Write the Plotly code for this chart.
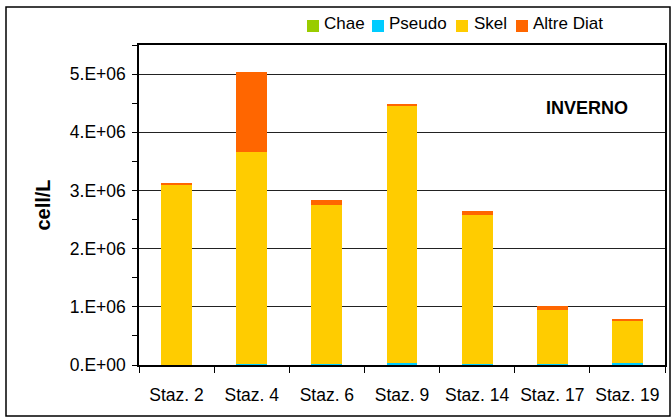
import plotly.graph_objects as go

stations = ["Staz. 2", "Staz. 4", "Staz. 6", "Staz. 9", "Staz. 14", "Staz. 17", "Staz. 19"]
chae = [0.002e6, 0.008e6, 0.002e6, 0.008e6, 0.008e6, 0.002e6, 0.002e6]
pseudo = [0.001e6, 0.001e6, 0.008e6, 0.020e6, 0.001e6, 0.008e6, 0.040e6]
skel = [3.09e6, 3.65e6, 2.745e6, 4.43e6, 2.57e6, 0.94e6, 0.715e6]
altre = [0.04e6, 1.37e6, 0.085e6, 0.03e6, 0.07e6, 0.065e6, 0.034e6]

series_names = ["Chae", "Pseudo", "Skel", "Altre Diat"]
series_vals = [chae, pseudo, skel, altre]
series_colors = ["#99CC00", "#00CCFF", "#FFCC00", "#FF6600"]

y_tickvals = [0, 1e6, 2e6, 3e6, 4e6, 5e6]
y_ticktext = ["0.E+00", "1.E+06", "2.E+06", "3.E+06", "4.E+06", "5.E+06"]

FONT = "Liberation Sans, Arial, sans-serif"

# layout geometry (pixels)
W, H = 672, 417
L, R, T, B = 139, 7, 45, 52
PW, PH = W - L - R, H - T - B


def px_x(x):
    return (x - L) / PW


def px_y(y):
    return (H - B - y) / PH


fig = go.Figure()
for name, vals, col in zip(series_names, series_vals, series_colors):
    fig.add_trace(go.Bar(x=stations, y=vals, name=name, showlegend=False,
                         marker=dict(color=col, line=dict(width=0))))

# manual legend (square + label), Excel style
legend_sq_x = [307, 372, 456, 516]
legend_tx_x = [323, 388, 473, 532]
shapes = [dict(type="rect", xref="paper", yref="paper",
               x0=px_x(6), x1=px_x(670), y0=px_y(416), y1=px_y(7),
               line=dict(color="black", width=1.5), fillcolor="rgba(0,0,0,0)", layer="below")]
annotations = [dict(text="<b>INVERNO</b>", xref="paper", yref="paper",
                    x=px_x(587), y=px_y(108), xanchor="center", yanchor="middle",
                    showarrow=False, font=dict(size=18, family=FONT))]
for name, col, sx, tx in zip(series_names, series_colors, legend_sq_x, legend_tx_x):
    shapes.append(dict(type="rect", xref="paper", yref="paper",
                       x0=px_x(sx), x1=px_x(sx + 12), y0=px_y(32), y1=px_y(20),
                       line=dict(width=0), fillcolor=col))
    annotations.append(dict(text=name, xref="paper", yref="paper", x=px_x(tx - 1), y=px_y(24),
                            xanchor="left", yanchor="middle", showarrow=False,
                            font=dict(size=17, family=FONT, color="black")))

fig.update_layout(
    barmode="stack",
    bargap=0.59,
    width=W, height=H,
    margin=dict(l=L, r=R, t=T, b=B, autoexpand=False),
    paper_bgcolor="white", plot_bgcolor="white",
    font=dict(family=FONT, size=17.5, color="black"),
    showlegend=False,
    xaxis=dict(showline=True, linecolor="black", linewidth=1.5, mirror=True,
               ticks="outside", ticklen=6, tickcolor="black", tickson="boundaries",
               tickangle=0, automargin=False,
               ticklabelstandoff=13, showgrid=False),
    yaxis=dict(range=[0, 5.5e6], showline=True, linecolor="black", linewidth=1.5, mirror=True,
               tickvals=y_tickvals, ticktext=y_ticktext, ticks="outside", ticklen=5,
               tickcolor="black", showgrid=True, gridcolor="#222222", gridwidth=1,
               zeroline=False, automargin=False, ticklabelstandoff=3,
               minor=dict(dtick=5e5, tick0=0, ticks="outside", ticklen=5, tickcolor="black", showgrid=False),
               title=dict(text="<b>cell/L</b>", font=dict(size=20), standoff=14)),
    shapes=shapes,
    annotations=annotations,
)

fig.write_html("out.html", config={"displayModeBar": False},
               post_script="document.body.style.margin='0px';")
